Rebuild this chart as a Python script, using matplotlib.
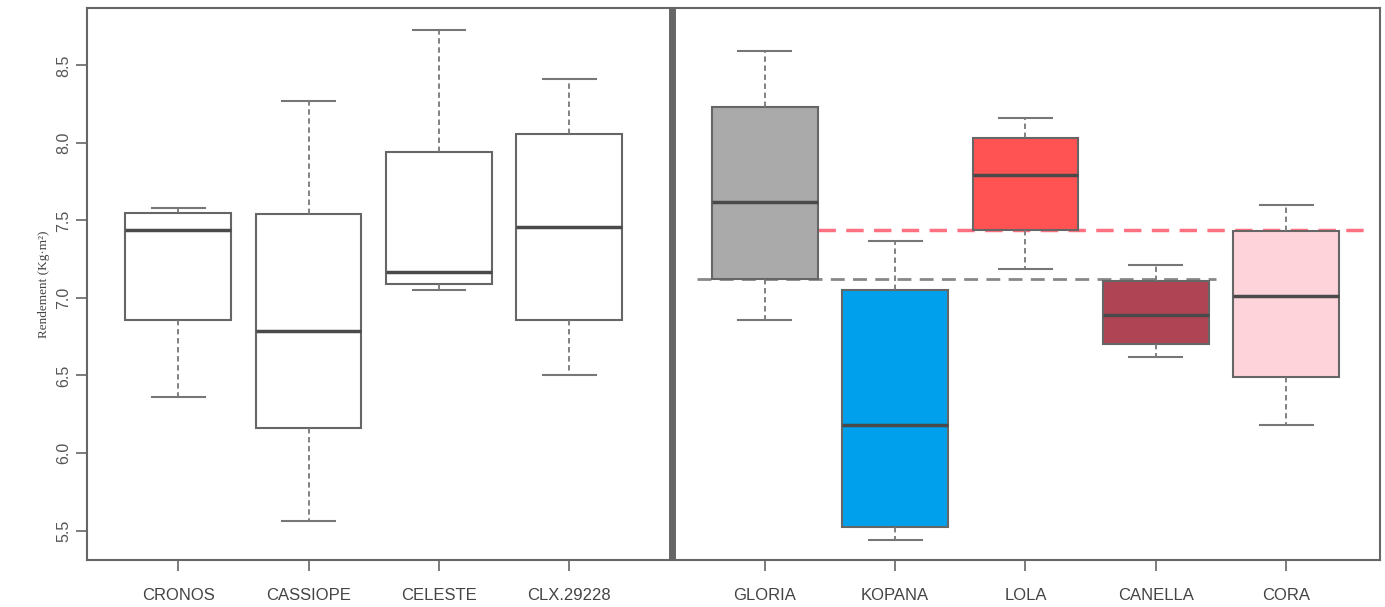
import matplotlib.pyplot as plt

# variétés et statistiques
varietes = ['CRONOS', 'CASSIOPE', 'CELESTE', 'CLX.29228',
            'GLORIA', 'KOPANA', 'LOLA', 'CANELLA', 'CORA']
positions = [1, 2, 3, 4, 5.5, 6.5, 7.5, 8.5, 9.5]
whislo = [6.36, 5.56, 7.05, 6.50, 6.86, 5.44, 7.19, 6.62, 6.18]
q1 = [6.86, 6.16, 7.09, 6.86, 7.12, 5.52, 7.44, 6.70, 6.49]
med = [7.44, 6.79, 7.17, 7.46, 7.62, 6.18, 7.79, 6.89, 7.01]
q3 = [7.55, 7.54, 7.94, 8.06, 8.23, 7.05, 8.03, 7.11, 7.43]
whishi = [7.58, 8.27, 8.73, 8.41, 8.59, 7.37, 8.16, 7.21, 7.60]
couleurs = ['white', 'white', 'white', 'white',
            '#aaaaaa', '#00a0ec', '#ff5252', '#ae4454', '#ffd3da']

# lignes de référence
ref_gris = 7.12
ref_rouge = 7.44

plt.rcParams['font.family'] = ['Liberation Sans', 'DejaVu Sans']

stats = []
for i in range(len(varietes)):
    stats.append(dict(label=varietes[i], whislo=whislo[i], q1=q1[i], med=med[i],
                      q3=q3[i], whishi=whishi[i], fliers=[]))

fig = plt.figure(figsize=(13.85, 6.07), dpi=100)
ax = fig.add_axes([0.0628, 0.0774, 0.9336, 0.9094])

bp = ax.bxp(stats, positions=positions, widths=0.81, patch_artist=True,
            boxprops=dict(edgecolor='#666666', linewidth=1.5),
            medianprops=dict(color='#4a4a4a', linewidth=2.5),
            whiskerprops=dict(color='#777777', linewidth=1.3, linestyle=(0, (3, 2))),
            capprops=dict(color='#777777', linewidth=1.5))
for patch, c in zip(bp['boxes'], couleurs):
    patch.set_facecolor(c)

# séparation des deux groupes
ax.axvline(4.79, color='#666666', linewidth=5, solid_capstyle='round', zorder=5)

ax.plot([4.98, 8.96], [ref_gris, ref_gris], color='#888888', linewidth=2,
        linestyle=(0, (5, 3)), zorder=1)
ax.plot([5.91, 10.15], [ref_rouge, ref_rouge], color='#ff7080', linewidth=2.5,
        linestyle=(0, (5, 3)), zorder=1)

ax.set_xlim(0.30, 10.22)
ax.set_ylim(5.31, 8.87)
ax.set_yticks([5.5, 6.0, 6.5, 7.0, 7.5, 8.0, 8.5])
ax.set_yticklabels(['5.5', '6.0', '6.5', '7.0', '7.5', '8.0', '8.5'],
                   rotation=90, va='center', color='#555555', fontsize=11.5)
ax.set_xticks(positions)
ax.set_xticklabels(varietes, color='#444444', fontsize=12)
ax.tick_params(axis='both', length=8, color='#666666', width=1.2)
ax.tick_params(axis='x', pad=12)
ax.set_ylabel('Rendement (Kg·m²)', family='Liberation Serif', fontsize=9.5, color='#444444')
for s in ax.spines.values():
    s.set_color('#666666')
    s.set_linewidth(1.5)

fig.savefig('out.png')
